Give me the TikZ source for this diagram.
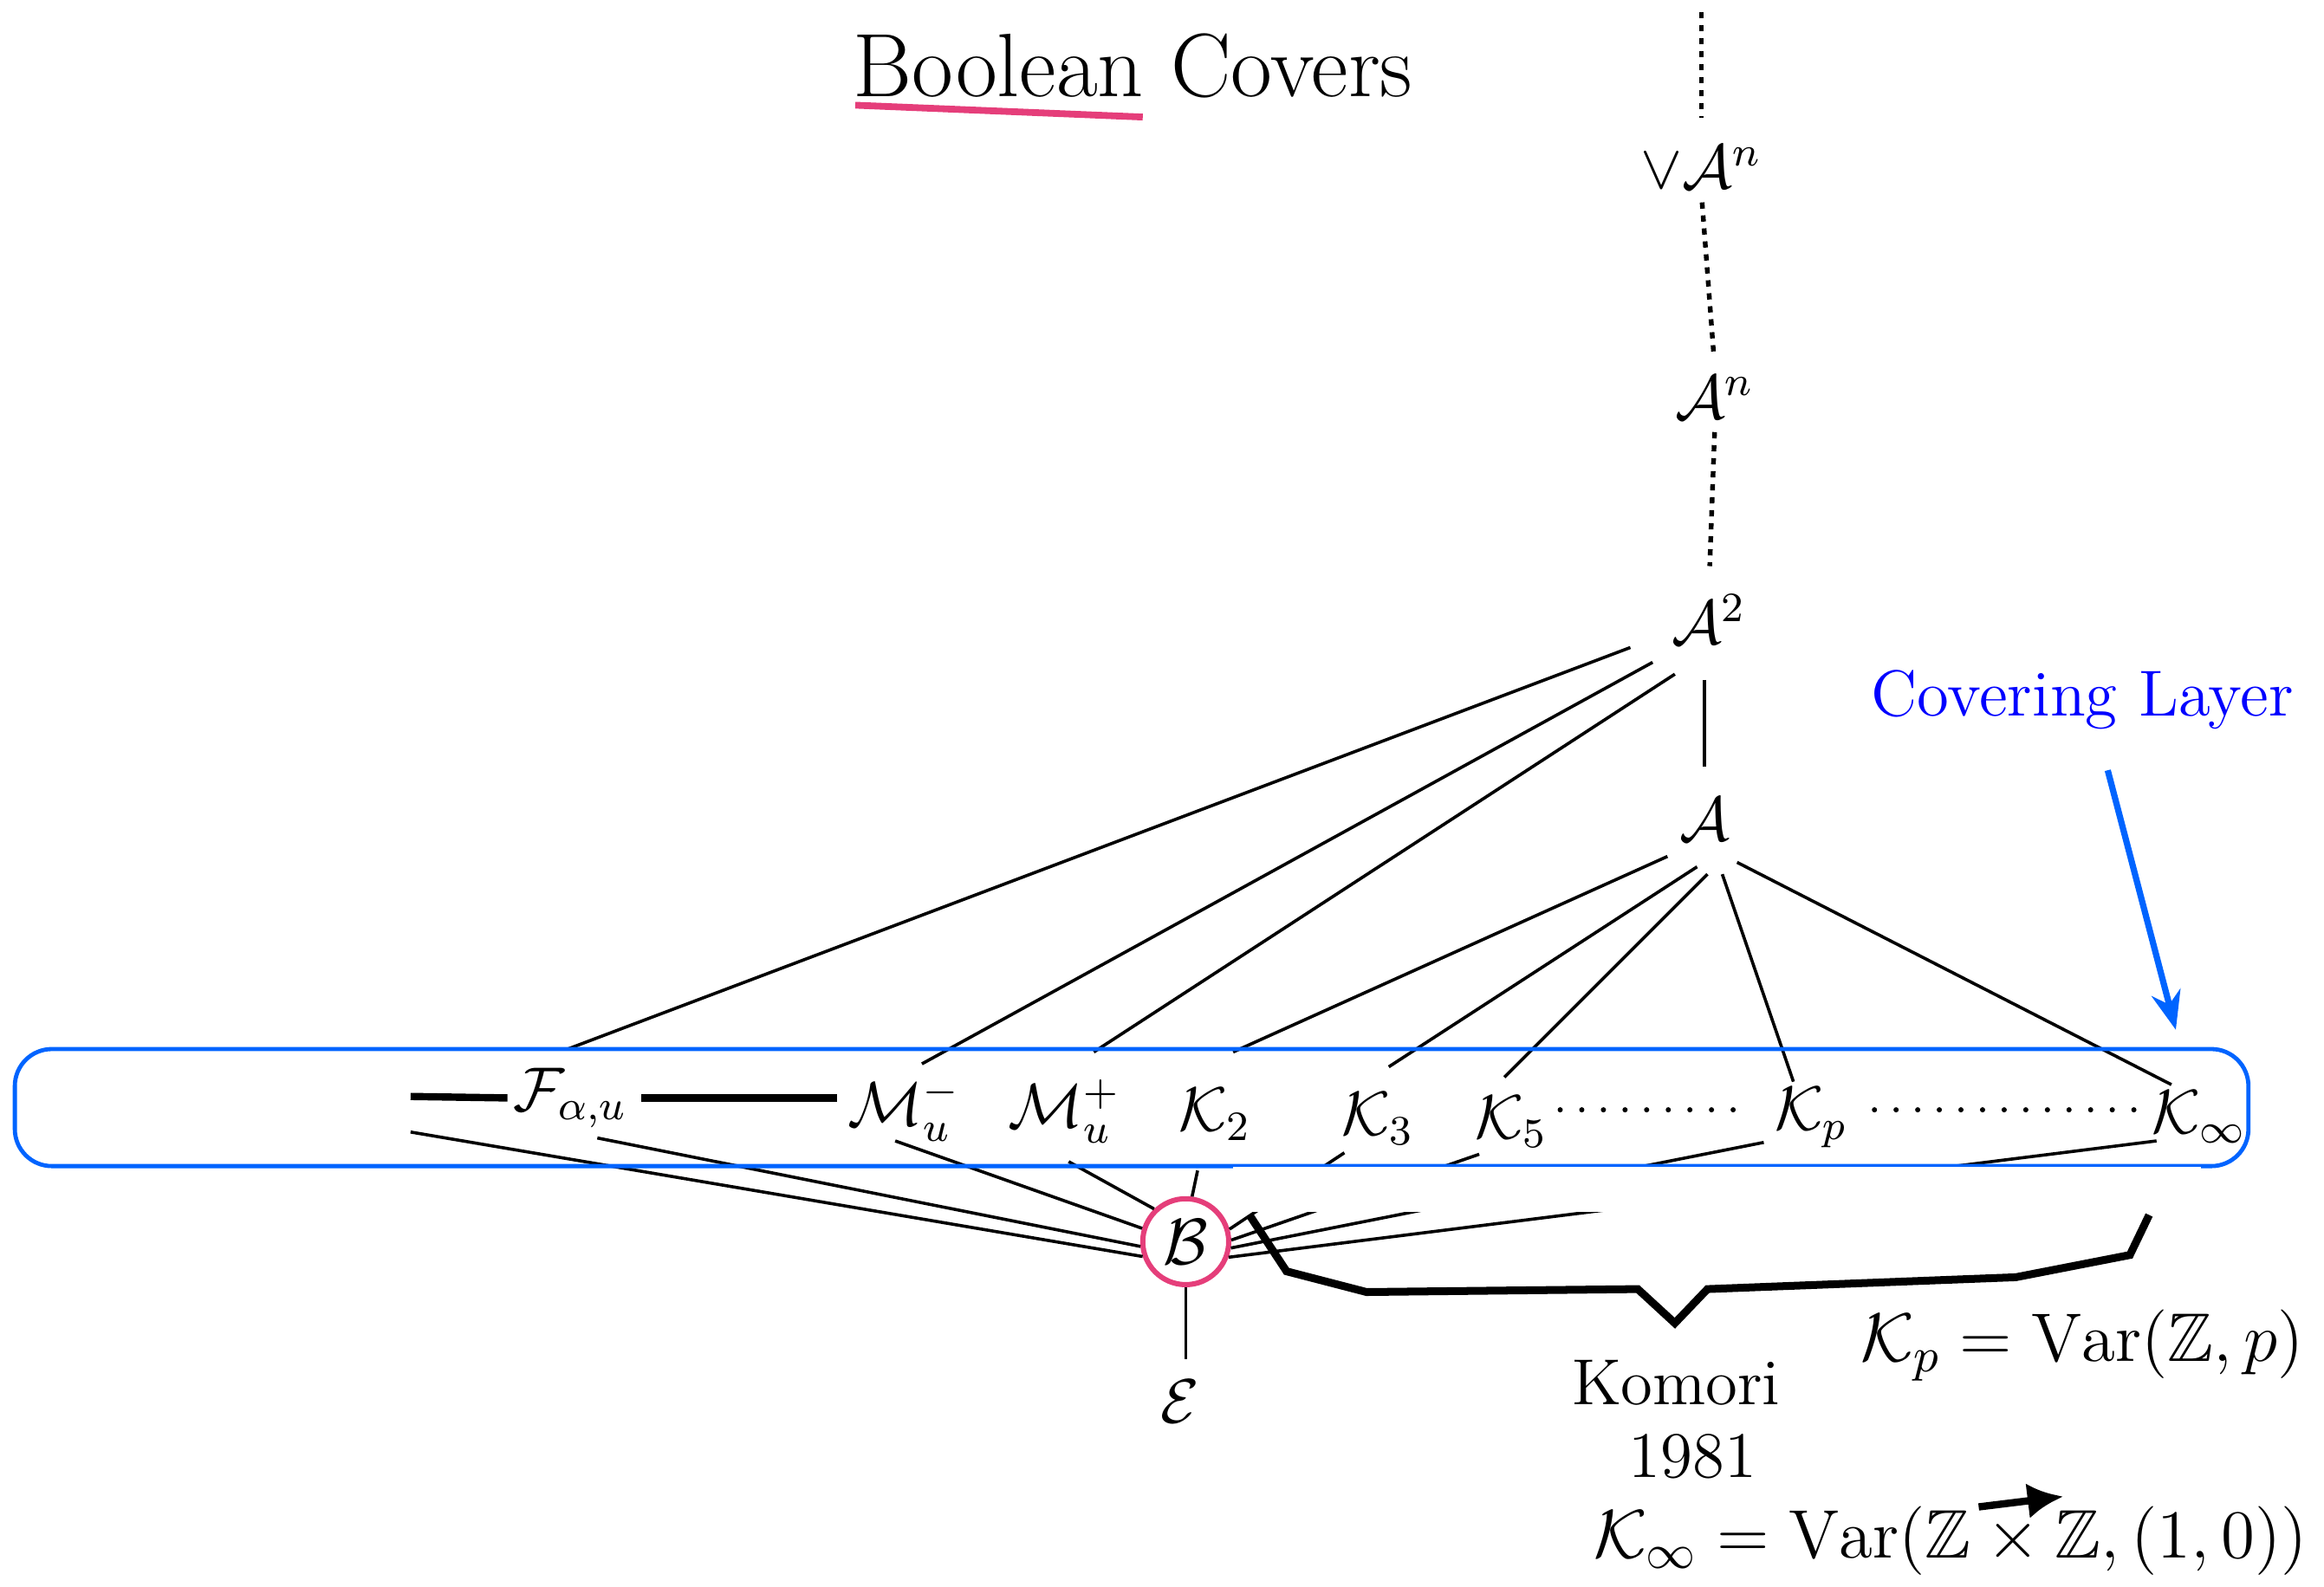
\RequirePackage{fix-cm}
\documentclass[tikz,border=0pt]{standalone}
\usepackage{amsmath}
\usepackage{amssymb}
\usepackage{fontspec}
\usetikzlibrary{positioning,arrows.meta}
\definecolor{layerblue}{RGB}{0,100,255}
\definecolor{boolpink}{RGB}{229,62,122}

\begin{document}
\begin{tikzpicture}[>=latex,font=\fontsize{12.5}{15}\selectfont,
    lat/.style={inner sep=1pt,font=\fontsize{12}{14.5}\selectfont},
    defn/.style={font=\fontsize{13.2}{16}\selectfont},
    link/.style={line width=0.6pt},
    vdots/.style={line width=0.9pt,dash pattern=on 1.2pt off 1.3pt},
    rowdots/.style={line width=1pt,line cap=round,dash pattern=on 0pt off 4.15pt},
    bar/.style={line width=1.4pt}]
        \useasboundingbox (0,0) rectangle (15.68,10.71);
        % title
        \node[anchor=base west,inner sep=0pt,font=\fontsize{17.3}{20}\selectfont] (title) at (5.75,10.06) {Boolean Covers};
        \coordinate (ulA) at (5.77,10.00);
        \coordinate (ulB) at (7.71,9.92);
        \draw[boolpink,line width=1.3pt] (ulA) -- (ulB);
        % the chain above A
        \coordinate (top) at (11.48,10.63);
        \node[lat] (vAn) at (11.48,9.58) {$\vee\mathcal{A}^n$};
        \node[lat] (An) at (11.57,8.03) {$\mathcal{A}^n$};
        \node[lat] (A2) at (11.53,6.53) {$\mathcal{A}^2$};
        \node[lat] (A) at (11.50,5.18) {$\mathcal{A}$};
        \draw[vdots,shorten >=1.5mm] (top) -- (vAn.north);
        \draw[vdots,shorten <=0.5mm,shorten >=1mm] (vAn.south) -- (An.north);
        \draw[vdots,shorten <=0.5mm,shorten >=1.5mm] (An.south) -- (A2.north);
        \draw[link,shorten <=2mm,shorten >=1.7mm] (A2.south -| A) -- (A.north);
        % covering layer
        \node[lat] (F) at (3.85,3.30) {$\mathcal{F}_{\alpha,u}$};
        \node[lat] (Mm) at (6.10,3.22) {$\mathcal{M}_u^-$};
        \node[lat] (Mp) at (7.18,3.21) {$\mathcal{M}_u^+$};
        \node[lat] (K2) at (8.20,3.19) {$\mathcal{K}_2$};
        \node[lat] (K3) at (9.30,3.16) {$\mathcal{K}_3$};
        \node[lat] (K5) at (10.20,3.14) {$\mathcal{K}_5$};
        \node[lat] (Kp) at (12.22,3.17) {$\mathcal{K}_p$};
        \node[lat] (Kinf) at (14.84,3.17) {$\mathcal{K}_\infty$};
        \coordinate (Fw) at (2.77,3.31);
        \coordinate (Fs) at (2.77,3.07);
        \draw[bar] (Fw) -- (F.west);
        \draw[bar,shorten <=0.5mm,shorten >=0.3mm] (F.east) -- (Mm.west |- F.east);
        \draw[rowdots] ([xshift=0.4mm]K5.east |- Mm) -- ([xshift=-1.2mm]Kp.west |- Mm);
        \draw[rowdots] ([xshift=1.4mm]Kp.east |- Mm) -- ([xshift=-0.5mm]Kinf.west |- Mm);
        % up to A^2 and A
        \draw[link] ([shift={(-0.53,-0.19)}]A2.center) -- ([shift={(-0.02,0.33)}]F.center);
        \draw[link] ([shift={(-0.38,-0.29)}]A2.center) -- ([shift={(0.12,0.31)}]Mm.center);
        \draw[link] ([shift={(-0.23,-0.37)}]A2.center) -- ([shift={(0.20,0.40)}]Mp.center);
        \draw[link] ([shift={(-0.25,-0.25)}]A.center) -- ([shift={(0.12,0.42)}]K2.center);
        \draw[link] ([shift={(-0.05,-0.32)}]A.center) -- ([shift={(0.07,0.35)}]K3.center);
        \draw[link] ([shift={(0.02,-0.37)}]A.center) -- ([shift={(-0.05,0.30)}]K5.center);
        \draw[link] ([shift={(0.12,-0.37)}]A.center) -- ([shift={(-0.12,0.24)}]Kp.center);
        \draw[link] ([shift={(0.22,-0.29)}]A.center) -- ([shift={(-0.19,0.22)}]Kinf.center);
        % B and E
        \node[circle,draw=boolpink,line width=1pt,minimum size=0.58cm,inner sep=0pt] (B) at (8.00,2.33) {$\mathcal{B}$};
        \node[lat] (E) at (7.96,1.25) {$\mathcal{E}$};
        \draw[link,shorten >=1mm] (B.south) -- (B.south |- E.north);
        \draw[link] (Fs) -- (B.199);
        \draw[link] ([shift={(0.18,-0.27)}]F.center) -- (B.186);
        \draw[link] ([shift={(-0.06,-0.21)}]Mm.center) -- (B.163);
        \draw[link] ([shift={(0.03,-0.34)}]Mp.center) -- (B.134);
        \draw[link] ([shift={(-0.12,-0.38)}]K2.center) -- (B.82);
        \draw[link] (B.16) -- ([shift={(-0.23,-0.23)}]K3.center);
        \draw[link] (B.2) -- ([shift={(-0.22,-0.22)}]K5.center);
        \draw[link] (B.-8) -- ([shift={(-0.32,-0.17)}]Kp.center);
        \draw[link] (B.-20) -- ([shift={(-0.29,-0.16)}]Kinf.center);
        \draw[layerblue,line width=0.8pt,rounded corners=0.25cm] (0.10,2.84) rectangle (15.17,3.63);
        \fill[white] (8.32,2.53) rectangle (14.85,2.835);
        % brace
        \draw[line width=1.5pt,line join=miter] (8.43,2.51) -- (8.68,2.13) -- (9.22,1.99) -- (11.05,2.01)
            -- (11.30,1.78) -- (11.52,2.01) -- (13.60,2.09) -- (14.37,2.24) -- (14.50,2.51);
        % labels
        \node[text=blue] (cover) at (14.05,5.99) {Covering Layer};
        \coordinate (coverTip) at (14.68,3.76);
        \draw[layerblue,line width=1.2pt,shorten <=1.6mm,-{Stealth[length=2.6mm,width=2mm]}] ([xshift=1.3mm]cover.south) -- (coverTip);
        \node (komori) at (11.31,1.38) {Komori};
        \node (year) at (11.42,0.88) {1981};
        \node[defn] (kpdef) at (14.05,1.63) {$\mathcal{K}_p=\mathrm{Var}(\mathbb{Z},p)$};
        \node[defn] (kinfdef) at (13.16,0.31) {$\mathcal{K}_\infty=\mathrm{Var}(\mathbb{Z}\times\mathbb{Z},(1,0))$};
        \coordinate (zzA) at (13.35,0.54);
        \coordinate (zzB) at (13.92,0.61);
        \draw[line width=1.4pt,-{Latex[length=2.4mm,width=2.4mm]}] (zzA) -- (zzB);
    \end{tikzpicture}
\end{document}
